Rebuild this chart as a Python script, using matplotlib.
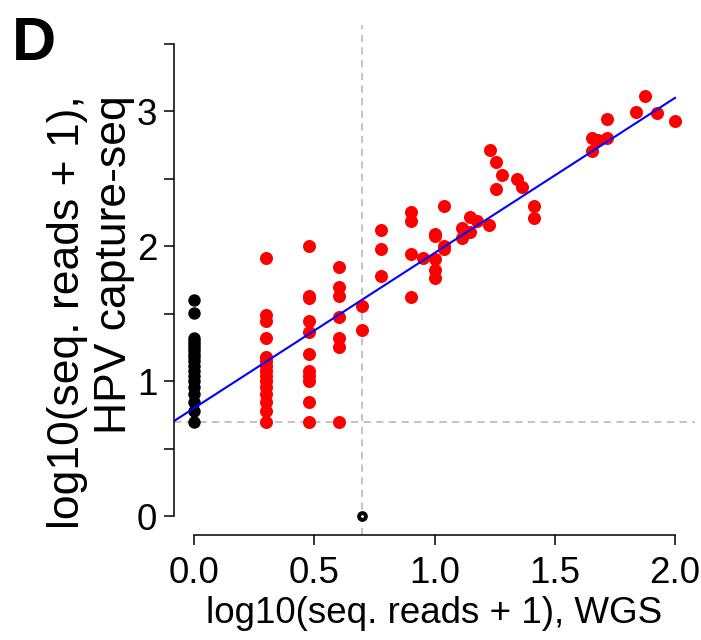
"""Panel D: HPV read counts, WGS vs. capture-seq (log10 scale)."""

import matplotlib
matplotlib.use("Agg")
import matplotlib.pyplot as plt
import numpy as np

plt.rcParams["font.family"] = ["Liberation Sans", "DejaVu Sans"]

# WGS == 0 (black column)
zero_wgs_x = [0.0] * 19
zero_wgs_y = [0.699, 0.778, 0.845, 0.903, 0.954, 1.0, 1.041, 1.079, 1.114, 1.146,
              1.176, 1.204, 1.230, 1.255, 1.279, 1.301, 1.322, 1.505, 1.602]

# capture-seq == 0
zero_cap_x = [0.699]
zero_cap_y = [0.0]

# both positive (red)
both_x = [0.301] * 15 + [0.477] * 11 + [0.602] * 7 + [0.699] * 2 + [0.778] * 3 \
    + [0.903] * 4 + [0.954] + [1.0] * 5 + [1.041] * 3 + [1.113] * 2 + [1.146] * 2 \
    + [1.176, 1.228, 1.230, 1.255, 1.279, 1.255, 1.342, 1.362, 1.415, 1.415] \
    + [1.653, 1.681, 1.716, 1.653, 1.716, 1.839, 1.875, 1.924, 2.0]
both_y = [1.914, 1.491, 1.447, 1.322, 1.176, 1.146, 1.114, 1.079, 1.041, 1.0,
          0.954, 0.903, 0.845, 0.778, 0.699] \
    + [2.0, 1.633, 1.613, 1.447, 1.362, 1.204, 1.079, 1.041, 1.0, 0.845, 0.699] \
    + [1.845, 1.699, 1.633, 1.477, 1.322, 1.255, 0.699] \
    + [1.556, 1.380] \
    + [2.124, 1.982, 1.778] \
    + [2.255, 2.185, 1.940, 1.623] \
    + [1.914] \
    + [2.093, 2.076, 1.903, 1.826, 1.763] \
    + [2.296, 2.004, 1.982] \
    + [2.134, 2.061] \
    + [2.217, 2.107] \
    + [2.185, 2.161, 2.711, 2.625, 2.526, 2.427, 2.496, 2.440, 2.301, 2.210] \
    + [2.803, 2.790, 2.803, 2.706, 2.940, 2.995, 3.117, 2.990, 2.930]

# linear fit
fit_intercept = 0.80
fit_slope = 1.15
threshold = np.log10(5)

x_ticks = [0.0, 0.5, 1.0, 1.5, 2.0]
y_ticks = [0, 0.5, 1, 1.5, 2, 2.5, 3, 3.5]
y_ticklabels = ["0", "", "1", "", "2", "", "3", ""]

fig = plt.figure(figsize=(7.01, 6.40), dpi=100)
ax = fig.add_axes([174 / 701, 105 / 640, 521 / 701, 510 / 640])
ax.set_xlim(-0.083, 2.083)
ax.set_ylim(-0.14, 3.64)

grey = "#BEBEBE"
ax.axhline(threshold, color=grey, lw=1.3, ls=(0, (4, 3)), zorder=1)
ax.axvline(threshold, color=grey, lw=1.3, ls=(0, (4, 3)), zorder=1)

ax.scatter(both_x, both_y, s=88, color="#FF0000", lw=0, zorder=2)
ax.scatter(zero_wgs_x, zero_wgs_y, s=80, color="black", lw=0, zorder=2)
ax.scatter(zero_cap_x, zero_cap_y, s=24, facecolor="white", edgecolor="black",
           lw=2.8, zorder=2)

xl = np.array([ax.get_xlim()[0], max(both_x)])
ax.plot(xl, fit_intercept + fit_slope * xl, color="#0000FF", lw=1.5, zorder=3)

for side in ("top", "right"):
    ax.spines[side].set_visible(False)
ax.spines["left"].set_bounds(0, 3.5)
ax.spines["bottom"].set_bounds(0, 2)
for side in ("left", "bottom"):
    ax.spines[side].set_linewidth(1.1)

ax.set_xticks(x_ticks)
ax.set_xticklabels([f"{t:.1f}" for t in x_ticks])
ax.set_yticks(y_ticks)
ax.set_yticklabels(y_ticklabels)
ax.tick_params(length=7, width=1.1, labelsize=26.5, pad=5)
ax.tick_params(axis="x", pad=8)

ax.set_xlabel("log10(seq. reads + 1), WGS", fontsize=26.5, labelpad=4)
fig.text(91 / 701, 1 - 95 / 640, "log10(seq. reads + 1),\nHPV capture-seq",
         rotation=90, fontsize=32, ha="center", va="top",
         multialignment="right", linespacing=1.2)
fig.text(12 / 701, 1 - 60 / 640, "D", fontsize=44, fontweight="bold")

fig.savefig("out.png", dpi=100)
